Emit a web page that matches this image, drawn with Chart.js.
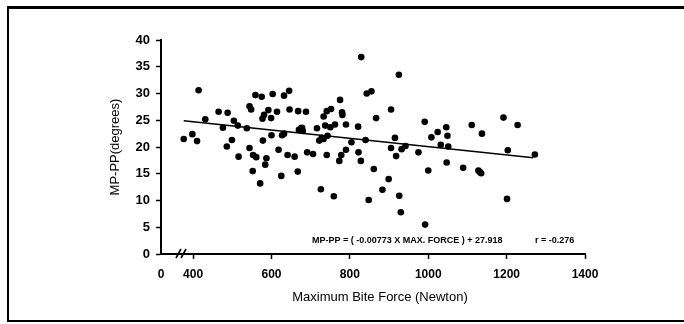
<!DOCTYPE html>
<html>
<head>
<meta charset="utf-8">
<script src="https://cdn.jsdelivr.net/npm/chart.js@4"></script>
<style>
  html, body { margin: 0; padding: 0; background: #fff; }
  #wrap { width: 684px; height: 324px; }
</style>
</head>
<body>
<div id="wrap"><canvas id="biteChart" width="684" height="324"></canvas></div>
<script>
// x axis is broken: the "0" label sits at the axis start
const axisStart = 318;
const xTickValues = [axisStart, 400, 600, 800, 1000, 1200, 1400];
const xTickLabels = ["0", "400", "600", "800", "1000", "1200", "1400"];
const yTickValues = [0, 5, 10, 15, 20, 25, 30, 35, 40];

// maximum bite force (N) and MP-PP angle (degrees)
const biteForce = [
  376, 398, 410, 414, 431, 465, 476, 488, 486, 499, 504, 514, 516, 537, 544, 548,
  544, 552, 553, 561, 559, 575, 571, 578, 577, 581, 584, 587, 592, 599, 600, 603,
  614, 618, 625, 627, 632, 632, 645, 641, 646, 659, 667, 668, 670, 675, 680, 678,
  688, 691, 706, 716, 722, 726, 728, 733, 733, 737, 741, 741, 743, 752, 750, 759,
  762, 773, 775, 778, 780, 781, 790, 790, 804, 821, 822, 828, 829, 840, 843, 848,
  855, 861, 867, 883, 899, 905, 905, 915, 918, 925, 926, 930, 932, 942, 975, 991,
  992, 1000, 1008, 1024, 1032, 1047, 1046, 1049, 1051, 1089, 1111, 1128, 1132, 1135, 1137, 1192,
  1201, 1203, 1228, 1272
];
const mpPp = [
  21.5, 22.4, 21.1, 30.6, 25.2, 26.6, 23.6, 26.4, 20.1, 21.3, 24.9, 24.0, 18.2, 23.5, 27.6, 27.0,
  19.8, 15.5, 18.5, 18.1, 29.7, 29.4, 13.2, 21.2, 25.3, 26.0, 16.7, 17.9, 26.9, 25.4, 22.2, 29.9,
  26.6, 19.5, 14.6, 22.2, 22.5, 29.6, 30.5, 18.5, 27.0, 18.2, 15.4, 26.7, 23.2, 23.5, 23.0, 23.6,
  26.6, 19.0, 18.7, 23.5, 21.2, 12.1, 21.7, 21.5, 25.7, 24.0, 18.5, 26.7, 22.1, 27.1, 23.7, 10.8,
  24.2, 17.4, 28.8, 18.5, 26.5, 26.0, 19.5, 24.2, 20.9, 23.8, 19.0, 17.4, 36.8, 21.3, 30.0, 10.1,
  30.4, 15.9, 25.4, 12.0, 14.0, 27.0, 19.8, 21.7, 18.3, 33.5, 10.9, 7.8, 19.6, 20.2, 19.0, 24.7,
  5.5, 15.6, 21.8, 22.8, 20.4, 17.1, 23.7, 22.1, 20.1, 16.1, 24.1, 15.6, 15.3, 15.1, 22.5, 25.5,
  10.3, 19.4, 24.1, 18.6
];

// regression line end points as drawn
const fitForce = [376, 1268];
const fitAngle = [24.9, 18.0];

const equationText = "MP-PP = ( -0.00773 X MAX. FORCE ) + 27.918";
const rText = "r = -0.276";

const fontFamily = "'Liberation Sans', Arial, sans-serif";

const extras = {
  id: "extras",
  afterDraw(chart) {
    const c = chart.ctx;
    const area = chart.chartArea;
    c.save();
    c.strokeStyle = "#000";
    c.fillStyle = "#000";

    // frame round the figure
    c.lineWidth = 3;
    c.beginPath(); c.moveTo(7, 7.5); c.lineTo(684, 7.5); c.stroke();
    c.lineWidth = 2;
    c.beginPath(); c.moveTo(8, 6); c.lineTo(8, 322); c.stroke();
    c.beginPath(); c.moveTo(7, 321); c.lineTo(684, 321); c.stroke();

    // axis break marks
    c.lineWidth = 1.6;
    const b = area.bottom;
    c.beginPath();
    c.moveTo(area.left + 15, b + 4); c.lineTo(area.left + 20, b - 5);
    c.moveTo(area.left + 20, b + 4); c.lineTo(area.left + 25, b - 5);
    c.stroke();

    // axis titles
    c.font = "13px " + fontFamily;
    c.textAlign = "center";
    c.textBaseline = "middle";
    c.fillText("Maximum Bite Force (Newton)", 380, 297);
    c.save();
    c.translate(115, 147);
    c.rotate(-Math.PI / 2);
    c.fillText("MP-PP(degrees)", 0, 0);
    c.restore();

    // regression equation
    c.font = "bold 9px " + fontFamily;
    c.textAlign = "left";
    c.fillText(equationText, 312, 241);
    c.fillText(rText, 535, 241);
    c.restore();
  }
};

new Chart(document.getElementById("biteChart"), {
  type: "scatter",
  data: {
    datasets: [
      {
        label: "MP-PP",
        data: biteForce.map((f, i) => ({ x: f, y: mpPp[i] })),
        backgroundColor: "#000",
        borderColor: "#000",
        pointRadius: 3.3,
        pointBorderWidth: 0
      },
      {
        label: "fit",
        data: fitForce.map((f, i) => ({ x: f, y: fitAngle[i] })),
        showLine: true,
        borderColor: "#000",
        borderWidth: 1.6,
        pointRadius: 0
      }
    ]
  },
  options: {
    responsive: false,
    animation: false,
    devicePixelRatio: 1,
    layout: { padding: { left: 0, right: 99, top: 40, bottom: 0 } },
    plugins: {
      legend: { display: false },
      tooltip: { enabled: false }
    },
    scales: {
      x: {
        type: "linear",
        min: axisStart,
        max: 1400,
        afterBuildTicks: scale => { scale.ticks = xTickValues.map(v => ({ value: v })); },
        afterFit: scale => { scale.height = 70; },
        ticks: {
          color: "#000",
          font: { family: fontFamily, size: 12, weight: "bold" },
          padding: 8,
          maxRotation: 0,
          callback: (v) => xTickLabels[xTickValues.indexOf(v)]
        },
        grid: {
          drawOnChartArea: false,
          tickLength: 5,
          tickWidth: 1.5,
          color: ctx => (ctx.tick && ctx.tick.value === axisStart ? "rgba(0,0,0,0)" : "#000")
        },
        border: { display: true, color: "#000", width: 2 }
      },
      y: {
        min: 0,
        max: 40,
        afterBuildTicks: scale => { scale.ticks = yTickValues.map(v => ({ value: v })); },
        afterFit: scale => { scale.width = 161; },
        ticks: { color: "#000", font: { family: fontFamily, size: 13, weight: "bold" }, padding: 6 },
        grid: {
          drawOnChartArea: false,
          tickLength: 5,
          tickWidth: 1.5,
          color: "#000"
        },
        border: { display: true, color: "#000", width: 2 }
      }
    }
  },
  plugins: [extras]
});
</script>
</body>
</html>
